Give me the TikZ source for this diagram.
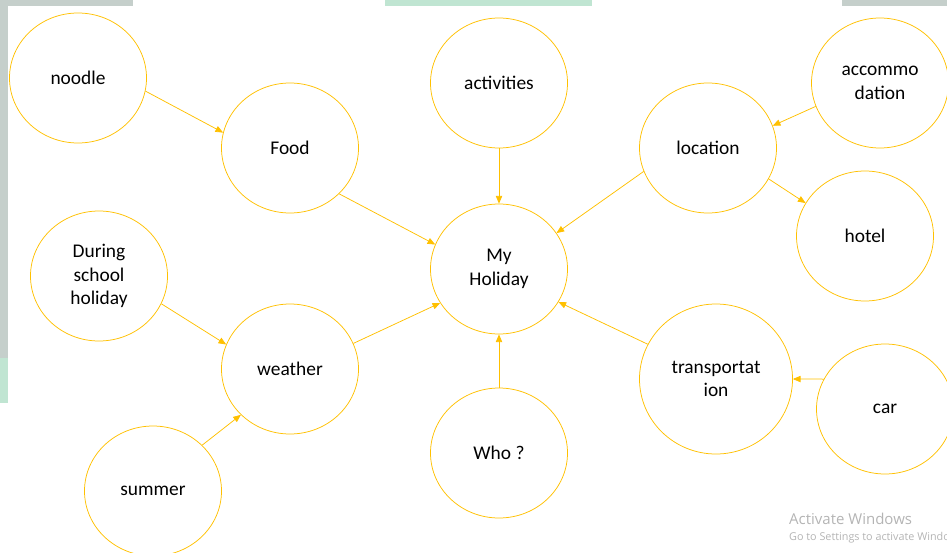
\documentclass[tikz,border=0pt]{standalone}
\usepackage{fontspec}
\setmainfont{Carlito}
\newfontfamily\wmfont{Open Sans}
\usetikzlibrary{arrows,shapes.geometric}

\definecolor{gold}{HTML}{FFC000}
\definecolor{edgegray}{HTML}{C5CFCB}
\definecolor{edgegreen}{HTML}{C0E5D2}
\definecolor{wmgray}{HTML}{B4B4B4}

\begin{document}
\begin{tikzpicture}[x=1pt,y=-1pt,
    bubble/.style={draw=gold,line width=0.75pt,ellipse,minimum width=137pt,
        minimum height=130pt,inner sep=0pt,align=center,
        font=\fontsize{19.4}{23.5}\selectfont},
    link/.style={draw=gold,line width=0.75pt,-triangle 45}]

\useasboundingbox (0,0) rectangle (947,552);

% screen edges
\fill[edgegray] (0,0) rectangle (133,6);
\fill[edgegray] (0,0) rectangle (8,358);
\fill[edgegreen] (0,358) rectangle (8,403);
\fill[edgegreen] (385,0) rectangle (592,6);
\fill[edgegray] (842,0) rectangle (947,6);

\node[bubble] (noodle) at (78,78) {noodle};
\node[bubble] (food) at (290,148) {Food};
\node[bubble] (activities) at (499,83) {activities};
\node[bubble] (location) at (708,148) {location};
\node[bubble] (accommodation) at (880,83) {accommo\\dation};
\node[bubble] (hotel) at (865,236) {hotel};
\node[bubble] (during) at (99,276) {During\\school\\holiday};
\node[bubble] (holiday) at (499,269) {My\\Holiday};
\node[bubble] (weather) at (290,369) {weather};
\node[bubble,minimum width=153pt,minimum height=150pt] (transport) at (716,379) {transportat\\ion};
\node[bubble] (car) at (885,409) {car};
\node[bubble] (who) at (499,453) {Who ?};
\node[bubble] (summer) at (153,491) {summer};

\draw[link] (noodle.-11) -- (food.167);
\draw[link] (food.-43) -- (holiday.159);
\draw[link] (activities.-90) -- (holiday.90);
\draw[link] (location.200) -- (holiday.32);
\draw[link] (accommodation.200) -- (location.19);
\draw[link] (location.-27) -- (hotel.151);
\draw[link] (during.-24) -- (weather.159);
\draw[link] (weather.22) -- (holiday.210);
\draw[link] (summer.43) -- (weather.223);
\draw[link] (who.90) -- (holiday.-90);
\draw[link] (transport.153) -- (holiday.-29);
\draw[link] (car.154) -- (transport.0);

\node[anchor=base west,inner xsep=0pt,text=wmgray,font=\wmfont\fontsize{15}{15}\selectfont] (activate) at (789,524) {Activate Windows};
\node[anchor=base west,inner xsep=0pt,text=wmgray,font=\wmfont\fontsize{10.8}{10.8}\selectfont] (settings) at (789,540) {Go to Settings to activate Windows.};

\end{tikzpicture}
\end{document}
